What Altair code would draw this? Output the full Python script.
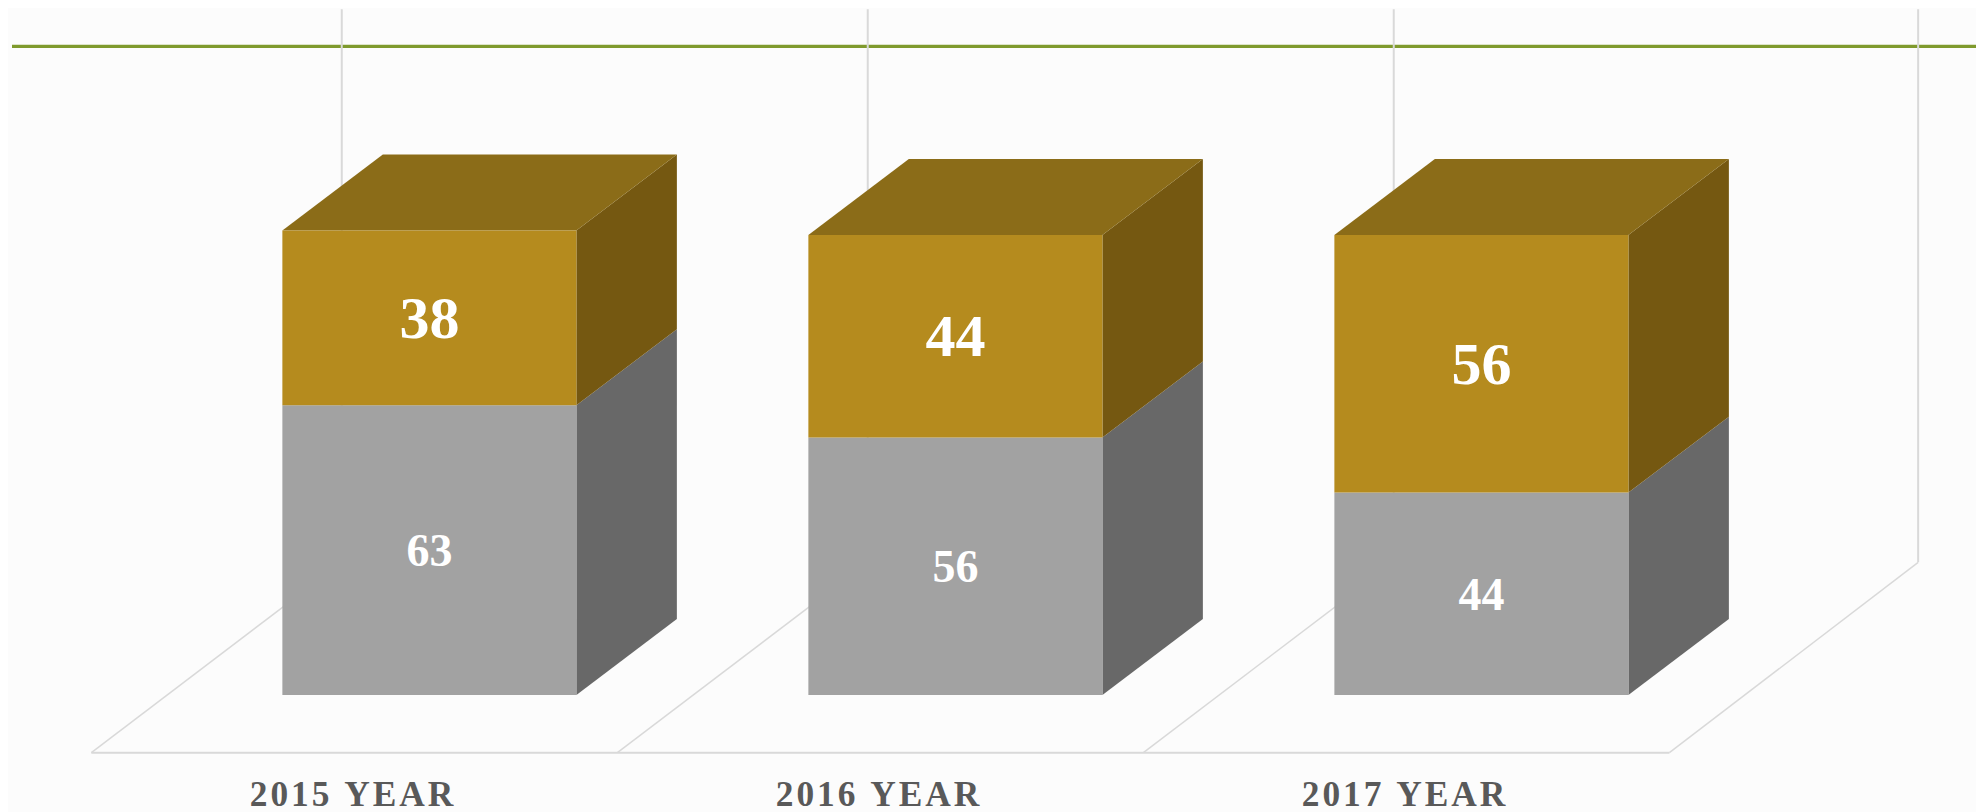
import altair as alt
import pandas as pd

categories = ["2015 YEAR", "2016 YEAR", "2017 YEAR"]
lower_values = [63, 56, 44]
upper_values = [38, 44, 56]

# Category units: 1 unit = one category step. Value units: bar value scale.
PLOT_W, PLOT_H = 1968, 804
HALF = 0.2795
DX, DY = 0.191, 16.5
FLOOR_FRONT, FLOOR_BACK = -12.54, 28.85
FLOOR_L, FLOOR_R = -0.6426, -0.1664
WALL_TOP, GREEN_Y, LABEL_Y = 149.1, 141.0, -21.5
LABEL_OFFSET = -0.148

GOLD_FRONT, GOLD_TOP, GOLD_SIDE = "#B58B1E", "#8B6C18", "#755811"
GRAY_FRONT, GRAY_SIDE = "#A2A2A2", "#686868"
GRID, GREEN, LABEL = "#D9D9D9", "#7F9A2D", "#595959"
BG = "#FCFCFC"
FONT = "Liberation Serif"

x_s = alt.Scale(domain=[-0.8011, 2.9403], nice=False, zero=False)
y_s = alt.Scale(domain=[-25.43, 149.35], nice=False, zero=False)
X = lambda f="x": alt.X(f"{f}:Q", scale=x_s, axis=None)
Y = lambda f="y": alt.Y(f"{f}:Q", scale=y_s, axis=None)

side, top, front, labels = [], [], [], []
for i, (lo, up) in enumerate(zip(lower_values, upper_values)):
    total = lo + up
    r = i + HALF
    side += [
        dict(id=f"g{i}", c=GRAY_SIDE, x=r, y=lo, y2=0),
        dict(id=f"g{i}", c=GRAY_SIDE, x=r + DX, y=lo + DY, y2=DY),
        dict(id=f"u{i}", c=GOLD_SIDE, x=r, y=total, y2=lo),
        dict(id=f"u{i}", c=GOLD_SIDE, x=r + DX, y=total + DY, y2=lo + DY),
    ]
    top += [
        dict(id=f"t{i}", x=i - HALF, x2=r, y=total),
        dict(id=f"t{i}", x=i - HALF + DX, x2=r + DX, y=total + DY),
    ]
    front += [
        dict(x=i - HALF, x2=r, y=lo, y2=0, c=GRAY_FRONT),
        dict(x=i - HALF, x2=r, y=total, y2=lo, c=GOLD_FRONT),
    ]
    labels += [
        dict(x=i, y=lo / 2, t=str(lo), size=46),
        dict(x=i, y=lo + up / 2, t=str(up), size=60),
    ]

walls = [dict(x=i + FLOOR_L + 0.476, y=FLOOR_BACK, y2=WALL_TOP) for i in range(3)]
walls.append(dict(x=2 + FLOOR_L + 1.0 + 0.4729, y=FLOOR_BACK, y2=WALL_TOP))
diag = [dict(x=i + FLOOR_L, x2=i + FLOOR_L + 0.476, y=FLOOR_FRONT, y2=FLOOR_BACK) for i in range(3)]
diag.append(dict(x=2 + FLOOR_L + 1.0, x2=2 + FLOOR_L + 1.0 + 0.4729, y=FLOOR_FRONT, y2=FLOOR_BACK))
floor = [dict(x=FLOOR_L, x2=2 + FLOOR_L + 1.0, y=FLOOR_FRONT)]

green = alt.Chart(pd.DataFrame([dict(x=-0.7935, x2=2.9403, y=GREEN_Y)])).mark_rule(
    color=GREEN, strokeWidth=3.2).encode(x=X(), x2="x2:Q", y=Y())
wall_l = alt.Chart(pd.DataFrame(walls)).mark_rule(color=GRID, strokeWidth=2).encode(
    x=X(), y=Y(), y2="y2:Q")
diag_l = alt.Chart(pd.DataFrame(diag)).mark_rule(color=GRID, strokeWidth=1.5).encode(
    x=X(), x2="x2:Q", y=Y(), y2="y2:Q")
floor_l = alt.Chart(pd.DataFrame(floor)).mark_rule(color=GRID, strokeWidth=2).encode(
    x=X(), x2="x2:Q", y=Y())

side_m = alt.Chart(pd.DataFrame(side)).mark_area(interpolate="linear").encode(
    x=X(), y=Y(), y2="y2:Q", detail="id:N",
    color=alt.Color("c:N", scale=None, legend=None))
top_m = alt.Chart(pd.DataFrame(top)).mark_area(orient="horizontal", color=GOLD_TOP).encode(
    x=X(), x2="x2:Q", y=Y(), detail="id:N")
front_m = alt.Chart(pd.DataFrame(front)).mark_rect().encode(
    x=X(), x2="x2:Q", y=Y(), y2="y2:Q",
    color=alt.Color("c:N", scale=None, legend=None))
value_t = alt.Chart(pd.DataFrame(labels)).mark_text(
    font=FONT, fontWeight="bold", color="white", baseline="middle", dy=2).encode(
    x=X(), y=Y(), text="t:N", size=alt.Size("size:Q", scale=None, legend=None))

hair = "\u200a"
cat_df = pd.DataFrame([dict(x=i + LABEL_OFFSET, y=LABEL_Y, t=hair.join(c)) for i, c in enumerate(categories)])
cat_t = alt.Chart(cat_df).mark_text(
    font=FONT, fontWeight="bold", fontSize=35.4, color=LABEL, baseline="middle", dy=1).encode(
    x=X(), y=Y(), text="t:N")

chart = alt.layer(green, wall_l, diag_l, floor_l, side_m, top_m, front_m, value_t, cat_t).properties(
    width=PLOT_W, height=PLOT_H, background=BG, padding=0,
    autosize=alt.AutoSizeParams(type="none"),
).configure_view(stroke=None)

chart.save("out.html", embed_options={"renderer": "svg", "actions": False})
